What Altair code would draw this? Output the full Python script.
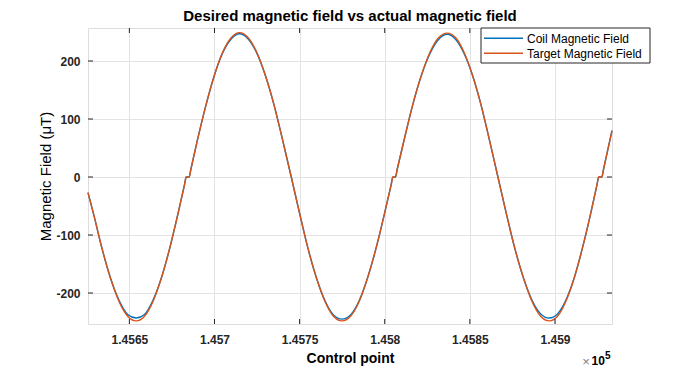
import altair as alt
import pandas as pd

# ---- data ----
control_point = [
    145625.7, 145629, 145634, 145639, 145644, 145649, 145654,
    145658.9, 145663.8, 145668.7, 145673.6, 145678.5, 145682.4, 145683.4, 145685.1, 145686.1,
    145690.0, 145695.0, 145699.9, 145704.8, 145709.8, 145714.7,
    145719.8, 145724.8, 145729.9, 145735.0, 145740.0, 145745.1,
    145750.1, 145755.0, 145760.0, 145765.0, 145769.9, 145774.9,
    145779.9, 145784.9, 145789.8, 145794.8, 145799.8, 145803.8, 145804.8, 145806.3, 145807.3,
    145811.4, 145816.4, 145821.5, 145826.6, 145831.6, 145836.7,
    145841.7, 145846.6, 145851.6, 145856.6, 145861.5, 145866.5,
    145871.5, 145876.5, 145881.6, 145886.6, 145891.6, 145896.6,
    145901.5, 145906.3, 145911.2, 145916.0, 145920.9, 145924.7, 145925.7, 145927.5, 145928.5,
    145930.5, 145933.5,
]
target_field = [
    -27, -64, -124, -175, -215, -240, -248,
    -240, -215, -175, -124, -64, -13, 0, 0, 13,
    64, 124, 175, 215, 240, 249,
    240, 215, 175, 124, 64, 0,
    -64, -124, -175, -215, -240, -248,
    -240, -215, -175, -124, -64, -13, 0, 0, 13,
    64, 124, 175, 215, 240, 248,
    240, 215, 175, 124, 64, 0,
    -64, -124, -175, -215, -240, -248,
    -240, -215, -175, -124, -64, -13, 0, 0, 13,
    40, 80,
]
coil_field = [
    -27, -64, -124, -175, -213, -237, -243,
    -237, -213, -175, -124, -64, -13, 0, 0, 13,
    64, 124, 175, 214, 238, 247,
    238, 214, 175, 124, 64, 0,
    -64, -124, -175, -214, -238, -245,
    -238, -214, -175, -124, -64, -13, 0, 0, 13,
    64, 124, 175, 213, 237, 246,
    237, 213, 175, 124, 64, 0,
    -64, -124, -175, -213, -236, -243,
    -236, -213, -175, -124, -64, -13, 0, 0, 13,
    40, 80,
]
series_names = ["Coil Magnetic Field", "Target Magnetic Field"]
series_colors = ["#0072BD", "#D95319"]
x_ticks = [145650, 145700, 145750, 145800, 145850, 145900]
y_ticks = [-200, -100, 0, 100, 200]
x_domain = [145625.7, 145933.5]
y_domain = [-253.4, 256.9]
chart_title = "Desired magnetic field vs actual magnetic field"

FONT = "Liberation Sans"
AX = "#262626"
W, H = 524, 296

rows = []
for xv, c in zip(control_point, coil_field):
    rows.append({"x": xv, "value": c, "series": series_names[0]})
for xv, t in zip(control_point, target_field):
    rows.append({"x": xv, "value": t, "series": series_names[1]})
df = pd.DataFrame(rows)
xt = pd.DataFrame({"x": x_ticks})
yt = pd.DataFrame({"value": y_ticks})
one = pd.DataFrame({"k": [0]})

xscale = alt.Scale(domain=x_domain, nice=False, zero=False)
yscale = alt.Scale(domain=y_domain, nice=False, zero=False)

lines = alt.Chart(df).mark_line(strokeWidth=1.4, interpolate="monotone").encode(
    x=alt.X("x:Q", scale=xscale, axis=alt.Axis(
        values=x_ticks, labelExpr="format(datum.value / 100000, '.4~f')",
        title="Control point", grid=True, gridColor="#e3e3e3", domain=False,
        ticks=False, tickSize=0, labelPadding=10, labelFont=FONT, labelFontSize=12,
        labelFontWeight="bold", labelColor=AX, titleFont=FONT, titleFontSize=14,
        titleFontWeight="bold", titleColor="#000", titleY=38,
        titleBaseline="alphabetic", labelFlush=False)),
    y=alt.Y("value:Q", scale=yscale, axis=alt.Axis(
        values=y_ticks, labelExpr="toString(datum.value)",
        title="Magnetic Field (μT)", grid=True, gridColor="#e3e3e3",
        domain=False, ticks=False, tickSize=0, labelPadding=8, labelFont=FONT,
        labelFontSize=12, labelFontWeight="bold", labelColor=AX, titleFont=FONT,
        titleFontSize=15, titleFontWeight="normal", titleColor="#000",
        titleX=-43, titleY=H / 2, titleAngle=-90, titleBaseline="middle",
        titleAlign="center", labelFlush=False)),
    color=alt.Color("series:N", scale=alt.Scale(domain=series_names, range=series_colors),
                    legend=None),
)

tick_top = alt.Chart(xt).mark_rule(color=AX, strokeWidth=1).encode(
    x="x:Q", y=alt.value(0), y2=alt.value(5))
tick_bot = alt.Chart(xt).mark_rule(color=AX, strokeWidth=1).encode(
    x="x:Q", y=alt.value(H - 5), y2=alt.value(H))
tick_left = alt.Chart(yt).mark_rule(color=AX, strokeWidth=1).encode(
    y="value:Q", x=alt.value(0), x2=alt.value(5))
tick_right = alt.Chart(yt).mark_rule(color=AX, strokeWidth=1).encode(
    y="value:Q", x=alt.value(W - 5), x2=alt.value(W))

# title
title_txt = alt.Chart(one).mark_text(
    text=chart_title, font=FONT, fontSize=15, fontWeight="bold", color="#000",
    align="center", baseline="alphabetic").encode(x=alt.value(W / 2), y=alt.value(-7))

# legend box
lx, ly, lw, lh = 393, 0, 169, 35
leg_box = alt.Chart(one).mark_rect(fill="white", stroke=AX, strokeWidth=1).encode(
    x=alt.value(lx), x2=alt.value(lx + lw), y=alt.value(ly), y2=alt.value(ly + lh))
leg_layers = [leg_box]
for i, (nm, col) in enumerate(zip(series_names, series_colors)):
    yy = ly + 10.3 + 15 * i
    leg_layers.append(alt.Chart(one).mark_rule(color=col, strokeWidth=1.5).encode(
        x=alt.value(lx + 3), x2=alt.value(lx + 42), y=alt.value(yy)))
    leg_layers.append(alt.Chart(one).mark_text(
        text=nm, font=FONT, fontSize=12, align="left", baseline="middle", color="#000").encode(
        x=alt.value(lx + 46), y=alt.value(yy + 0.5)))

# x10^5 exponent label
exp_x = alt.Chart(one).mark_text(text="×", font=FONT, fontSize=13, color="#808080",
                                 align="center", baseline="middle").encode(
    x=alt.value(498), y=alt.value(333.5))
exp_10 = alt.Chart(one).mark_text(text="10", font=FONT, fontSize=12, fontWeight="bold",
                                  color="#000", align="left", baseline="alphabetic").encode(
    x=alt.value(503.5), y=alt.value(337))
exp_5 = alt.Chart(one).mark_text(text="5", font=FONT, fontSize=10, fontWeight="bold",
                                 color="#000", align="left", baseline="alphabetic").encode(
    x=alt.value(517), y=alt.value(331))

chart = alt.layer(
    lines, tick_top, tick_bot, tick_left, tick_right, title_txt, *leg_layers,
    exp_x, exp_10, exp_5
).properties(
    width=W, height=H,
    autosize=alt.AutoSizeParams(type="none"),
    padding={"left": 80, "top": 20, "right": 56, "bottom": 44},
).configure_view(stroke=AX, strokeWidth=1).configure(background="white")

chart.save("out.html", embed_options={"renderer": "svg", "actions": False})
